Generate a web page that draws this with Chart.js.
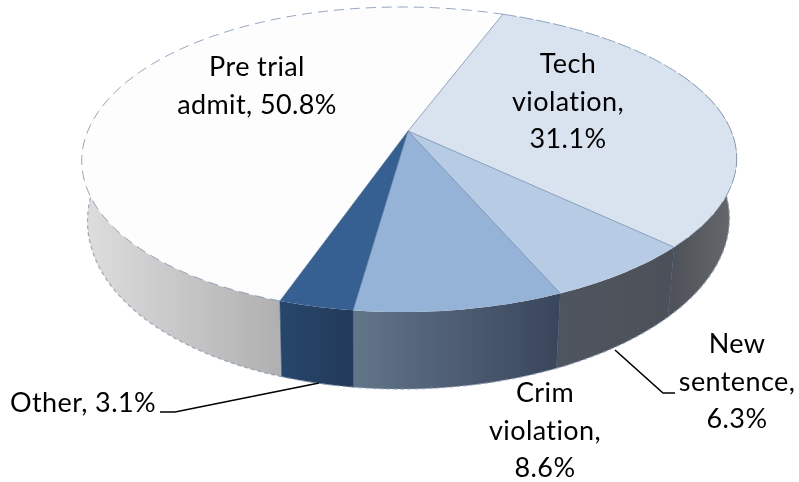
<!DOCTYPE html>
<html>
<head>
<meta charset="utf-8">
<style>
html,body{margin:0;padding:0;background:#fff}
#wrap{width:799px;height:482px;position:relative}
canvas{filter:blur(0.45px)}
</style>
<script src="https://cdn.jsdelivr.net/npm/chart.js@4/dist/chart.umd.min.js"></script>
</head>
<body>
<div id="wrap"><canvas id="c" width="799" height="482"></canvas></div>
<script>
const categories = ["Pre trial admit", "Tech violation", "New sentence", "Crim violation", "Other"];
const shares = [50.8, 31.1, 6.3, 8.6, 3.1];
const labelLines = [
  ["Pre trial", "admit, 50.8%"],
  ["Tech", "violation,", "31.1%"],
  ["New", "sentence,", "6.3%"],
  ["Crim", "violation,", "8.6%"],
  ["Other, 3.1%"]
];
const topColors = ["#fdfdfd", "#d9e3ef", "#b7cce4", "#95b3d7", "#366092"];
const wallFrom = ["#dedede", "#4f5359", "#4f555e", "#627589", "#26466b"];
const wallTo = ["#b0b0b0", "#67696c", "#4c5059", "#39455a", "#233a5a"];
const labelAnchors = [
  {x:257, y:76}, {x:568, y:73}, {x:737, y:353}, {x:545, y:402}, {x:83, y:412}
];
const leaders = [
  null, null,
  [[615,350],[663,393],[675,393]],
  null,
  [[160,412],[175,412],[319,383]]
];

const G = {ax:408, off:1.5, lean:7.5, ay:131, R:321.7, r:147.2, q:0.187, depth:77, refY:312, dk:0.11, sx:0.98, vx:370};
const RAD = Math.PI/180;
function rim(a){
  const u = Math.cos(a), v = Math.sin(a), w = 1 - G.q*v;
  return [G.ax + G.off + G.R*u/w - G.lean*v*v, G.ay + G.r*v/w];
}
function low(p){
  return [G.vx + (p[0]-G.vx)*G.sx, p[1] + G.depth + (p[1]-G.refY)*G.dk];
}
function samples(s,e){
  const out=[]; const n=Math.max(2,Math.ceil((e-s)/RAD));
  for(let i=0;i<=n;i++) out.push(s+(e-s)*i/n);
  return out;
}
function visible(a){
  let d=(a/RAD)%360; if(d<0)d+=360;
  return d<=205 || d>=335;
}
const pie3d = {
  id:'pie3d',
  beforeDatasetsDraw(chart){
    const ctx=chart.ctx, arcs=chart.getDatasetMeta(0).data;
    ctx.save();
    // walls
    arcs.forEach((el,i)=>{
      const as=samples(el.startAngle,el.endAngle).filter(visible);
      if(as.length<2) return;
      const up=as.map(rim), dn=up.map(low);
      const xs=up.map(p=>p[0]);
      const g=ctx.createLinearGradient(Math.min(...xs),0,Math.max(...xs),0);
      g.addColorStop(0,wallFrom[i]); g.addColorStop(1,wallTo[i]);
      ctx.beginPath();
      up.forEach((p,k)=>k?ctx.lineTo(p[0],p[1]):ctx.moveTo(p[0],p[1]));
      dn.slice().reverse().forEach(p=>ctx.lineTo(p[0],p[1]));
      ctx.closePath();
      ctx.fillStyle=g; ctx.fill();
      // lower rim
      ctx.beginPath();
      dn.forEach((p,k)=>k?ctx.lineTo(p[0],p[1]):ctx.moveTo(p[0],p[1]));
      ctx.strokeStyle='rgba(140,158,182,0.8)'; ctx.lineWidth=1.3;
      ctx.setLineDash([4,3]); ctx.stroke(); ctx.setLineDash([]);
    });
    // seams
    arcs.forEach(el=>{
      if(!visible(el.startAngle)) return;
      const p=rim(el.startAngle), q=low(p);
      ctx.beginPath(); ctx.moveTo(p[0],p[1]); ctx.lineTo(q[0],q[1]);
      ctx.strokeStyle='rgba(45,75,115,0.55)'; ctx.lineWidth=1; ctx.stroke();
    });
    // top faces
    arcs.forEach((el,i)=>{
      const as=samples(el.startAngle,el.endAngle);
      ctx.beginPath(); ctx.moveTo(G.ax,G.ay);
      as.forEach(a=>{const p=rim(a); ctx.lineTo(p[0],p[1]);});
      ctx.closePath();
      ctx.fillStyle=topColors[i]; ctx.fill();
    });
    // slice edges and rim
    arcs.forEach((el,i)=>{
      const p=rim(el.startAngle);
      ctx.beginPath(); ctx.moveTo(G.ax,G.ay); ctx.lineTo(p[0],p[1]);
      ctx.strokeStyle= 'rgba(85,115,155,0.6)'; ctx.lineWidth=1; ctx.stroke();
      const as=samples(el.startAngle,el.endAngle);
      ctx.beginPath();
      as.forEach((a,k)=>{const q=rim(a); k?ctx.lineTo(q[0],q[1]):ctx.moveTo(q[0],q[1]);});
      if(i<2){ ctx.strokeStyle='rgba(105,130,165,0.7)'; ctx.setLineDash(i===0?[10,6]:[14,3]); ctx.stroke(); ctx.setLineDash([]); }
    });
    // labels and leader lines
    ctx.fillStyle='#000'; ctx.textAlign='center'; ctx.textBaseline='alphabetic';
    ctx.font='27px Lato, "Open Sans", sans-serif';
    ctx.letterSpacing='0.4px';
    labelLines.forEach((lines,i)=>{
      lines.forEach((t,k)=>ctx.fillText(t,labelAnchors[i].x,labelAnchors[i].y+k*37.5));
    });
    ctx.strokeStyle='#000'; ctx.lineWidth=1.6;
    leaders.forEach(l=>{
      if(!l) return;
      ctx.beginPath(); l.forEach((p,k)=>k?ctx.lineTo(p[0],p[1]):ctx.moveTo(p[0],p[1])); ctx.stroke();
    });
    ctx.restore();
    return false;
  }
};
new Chart(document.getElementById('c'),{
  type:'pie',
  data:{labels:categories,datasets:[{data:shares,backgroundColor:topColors,borderWidth:0}]},
  options:{
    responsive:false,animation:false,rotation:198.3,
    plugins:{legend:{display:false},title:{display:false},tooltip:{enabled:false}}
  },
  plugins:[pie3d]
});
</script>
</body>
</html>
